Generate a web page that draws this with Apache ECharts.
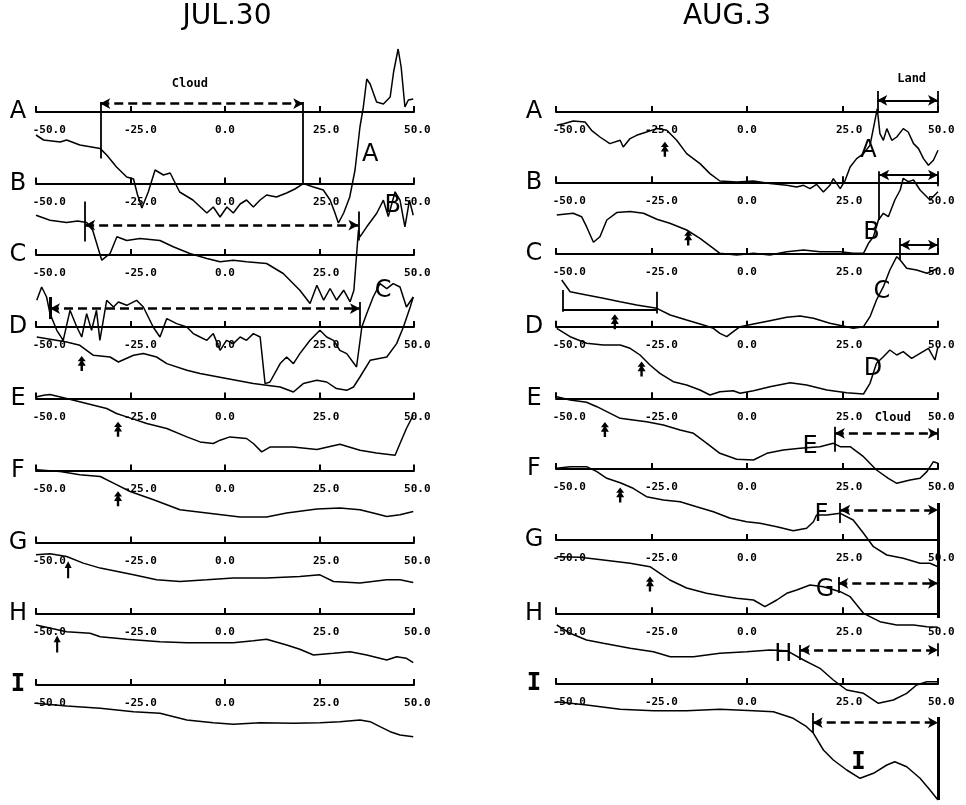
<!DOCTYPE html>
<html><head><meta charset="utf-8">
<script src="https://cdn.jsdelivr.net/npm/echarts@6/dist/echarts.min.js"></script>
<style>html,body{margin:0;padding:0;background:#fff}#c{width:966px;height:805px}</style>
</head><body><div id="c"></div>
<script>
// ---------- data ----------
const rowNames = ['A','B','C','D','E','F','G','H','I'];
const panelTitles = ['JUL.30','AUG.3'];
const tickValues = [-50,-25,0,25,50];
const tickLabels = ['-50.0','-25.0','0.0','25.0','50.0'];

// JUL.30 profiles: [distance, relative level]
const jul_A = [[-50,-23],[-48,-28],[-43.6,-30],[-41.9,-28],[-38.4,-33],[-33,-36.6],[-31.3,-43],[-28.7,-55],[-26,-65],[-24.2,-67],[-23.2,-82],[-22,-96],[-20.3,-80],[-18.5,-58],[-16.3,-63],[-14.5,-61],[-12,-80],[-8.5,-88],[-4.8,-101],[-3.1,-95],[-1.3,-105],[0.5,-95],[2.2,-101],[4,-92],[5.7,-88],[7.5,-95],[9.3,-88],[11,-83],[13.6,-85],[16.3,-81],[18.5,-77],[20.7,-71.6],[23.4,-75],[26,-78],[27.8,-88],[29.1,-101],[30,-111],[31.4,-101],[33,-85],[34.4,-58],[35.7,-15],[36.6,5],[37.5,33],[38.4,28],[40.1,10],[41.9,8],[43.7,15],[44.6,40],[45.8,63],[46.6,45],[47.6,5],[48.5,12],[49.8,13]];
const jul_B = [[-50,-31.7],[-46.3,-36.7],[-41.9,-39],[-39,-37.5],[-36.6,-39],[-35,-46.7],[-32.6,-76.7],[-30.4,-70],[-28.6,-53.3],[-26,-57],[-22.5,-55],[-17.2,-57],[-13.7,-63.3],[-9.3,-70],[-4.8,-75],[-1.3,-78.3],[2.2,-76.7],[5.7,-78.3],[11,-80],[15.4,-90],[19.8,-106.7],[22.5,-120],[24.3,-101.7],[26.1,-116.7],[27.8,-105],[29.5,-116.7],[31.4,-106.7],[33.1,-118.3],[34.1,-106.7],[35.3,-46.7],[35.7,-53.3],[37.5,-43.3],[40.1,-30],[41.9,-16.7],[43.2,-33],[45,-8.3],[46.3,-16.7],[47.6,-43.3],[48.8,-16.7],[49.8,-31.7]];
const jul_C = [[-49.8,-45.3],[-48.5,-32],[-47.2,-42],[-46.3,-58.6],[-44.5,-75.3],[-42.8,-85.3],[-41,-55.3],[-39.2,-72],[-37.9,-82],[-36.6,-58.6],[-35.3,-75.3],[-34,-55.3],[-33.1,-85.3],[-31.3,-45.3],[-29.5,-52],[-28.2,-47],[-26,-50.3],[-23.4,-45.3],[-21.6,-52],[-19,-72],[-17.2,-82],[-15.4,-63.6],[-12.8,-68.6],[-10.1,-72],[-8.4,-78.6],[-6.6,-82],[-4.8,-85.3],[-3.1,-78.6],[-1.3,-95.3],[0.4,-85.3],[2.2,-88.6],[4,-82],[5.7,-85.3],[7.5,-78.6],[9.3,-82],[10.6,-128.6],[11.9,-127],[14.6,-108.6],[16.3,-102],[18.1,-108.6],[19.8,-98.6],[22.5,-85.3],[25.1,-75.3],[26.9,-82],[28.7,-85.3],[30.4,-95.3],[32.2,-98.6],[34.8,-112],[36.2,-72],[37.5,-58.6],[39.2,-42],[41,-28.6],[42.8,-33.6],[44.5,-28.6],[46.3,-32],[48,-52],[49.8,-42]];
const jul_D = [[-49.8,-10],[-41.9,-15],[-38.4,-18.3],[-34.8,-28.3],[-30.4,-30],[-28.2,-35],[-24.2,-28.3],[-21.6,-26.6],[-18.1,-30],[-15.4,-36.6],[-10.1,-43.3],[-6.6,-46.6],[0.4,-51.6],[7.5,-56.6],[11,-58.3],[14.6,-60],[18.1,-65],[20.7,-56.6],[24.3,-53.3],[26.9,-55],[29.5,-61.6],[32.2,-63.3],[34,-60],[35.7,-50],[38.4,-33.3],[42.8,-30],[45.4,-16.6],[47.2,0],[49,20],[49.8,30]];
const jul_E = [[-50,1.6],[-48,3.3],[-46.3,4],[-41.9,0],[-36.6,-5],[-31.3,-10],[-28.7,-15],[-26,-18.4],[-20.7,-25],[-15.4,-30],[-10.1,-38.4],[-6.6,-43.4],[-3.1,-45],[-1.3,-41.7],[1.3,-38.4],[5.7,-40],[7.5,-45],[9.7,-53.4],[12,-48.4],[18,-48.4],[24.3,-51],[30.4,-45.7],[35.7,-51.7],[40.1,-54.4],[45,-56.7],[46.3,-45],[48,-30],[49.8,-16.7]];
const jul_F = [[-50,0.7],[-43.6,-1],[-38.4,-4.3],[-33,-6],[-29.5,-12.6],[-25.1,-21],[-18.9,-29.3],[-11.9,-39.3],[-4.8,-42.6],[4,-46.6],[11,-46.6],[16.3,-42.6],[24.3,-38.6],[30.4,-37.6],[35.7,-39.3],[39.2,-42.6],[42.8,-46],[46.3,-44.3],[49.8,-41]];
const jul_G = [[-50,-12.3],[-46.3,-11.3],[-41.9,-14],[-37.5,-20.6],[-33,-25.6],[-24.2,-32.3],[-18.1,-37.3],[-11.9,-39],[-4.8,-37.3],[2.2,-35.6],[11,-35.6],[19.8,-34],[25.1,-32.3],[28.7,-39],[35.7,-40.6],[42.8,-37.3],[46.3,-37.3],[49.8,-40]];
const jul_H = [[-50,-11],[-41.9,-17.7],[-35.7,-19.3],[-33,-22.7],[-26,-25.3],[-17.2,-27.7],[-10.1,-28.7],[-3.1,-28.7],[2.2,-28.7],[7.5,-26.7],[11,-25.3],[16.3,-31],[19.8,-35.3],[23.4,-41],[28.7,-39.3],[33.1,-37.7],[37.5,-41],[42.8,-46],[45.4,-42.7],[48,-44.3],[49.8,-48.7]];
const jul_I = [[-50,-18.3],[-41.9,-21],[-33,-23.3],[-24.2,-26.7],[-17.2,-28.3],[-10.1,-35],[-3.1,-37.7],[2.2,-39.3],[9.3,-37.7],[18.1,-38.3],[25.1,-37.7],[30.4,-36.7],[35.7,-35],[38.4,-36.7],[41,-41.7],[43.7,-46.7],[46.3,-50],[49.8,-51.7]];

// AUG.3 profiles
const aug_A = [[-49.8,-13.3],[-48,-11.7],[-45.5,-9],[-42.4,-10],[-40.7,-18.3],[-38.5,-25],[-35.9,-31.6],[-33.2,-28.3],[-32.4,-35],[-30.6,-26.6],[-28.9,-23.3],[-26.3,-20],[-23.6,-16.6],[-21,-18.3],[-18.4,-28.3],[-15.8,-41.6],[-12.3,-51.6],[-9.7,-61.6],[-7.1,-69],[-2.7,-70],[1.7,-69],[6,-71.6],[10.4,-73.3],[13,-75],[14.8,-73.3],[16.5,-76.6],[18.2,-72.3],[20,-80],[21.7,-73.3],[22.6,-66.6],[24.4,-76.6],[25.7,-68.3],[27,-55],[28.7,-46.6],[30.5,-41.6],[32.2,-33.3],[33.5,-8.3],[34.1,3.4],[34.8,-21.6],[35.7,-28.3],[36.6,-16.6],[37.9,-28.3],[39.2,-25],[40.9,-16.6],[42.2,-20],[43.6,-31.6],[44.9,-36.6],[46.2,-46.6],[47.5,-53.3],[48.8,-48.3],[50,-38.3]];
const aug_B = [[-49.8,-32.7],[-45.5,-31],[-43.3,-34.4],[-42,-44.4],[-40.2,-60],[-38.5,-54.4],[-36.7,-37.7],[-34.1,-30.3],[-30.6,-29.3],[-27.1,-31],[-23.6,-37],[-20.2,-41],[-15.8,-47.7],[-12.3,-56],[-8.8,-66],[-7.1,-71],[-2.7,-72.7],[1.7,-71],[6,-72.7],[10.4,-69.4],[14.8,-67.7],[19.1,-69.4],[24.4,-69.4],[27.8,-71],[30.5,-71],[31.8,-61],[33.1,-54.4],[34.4,-37.7],[35.7,-31],[37,-34.4],[38.7,-17.7],[40.1,-7.7],[40.9,4],[42.2,0.7],[43.6,2.3],[45.3,-7.7],[46.6,-12.7],[47.9,-17.7],[50,-9.4]];
const aug_C = [[-48.5,-26],[-46.3,-37.7],[-42,-41],[-37.6,-44.3],[-33.2,-47.7],[-28.9,-51],[-23.6,-54.3],[-20.1,-61],[-15.8,-66],[-11.4,-71],[-8.8,-74.3],[-7.1,-79.3],[-5.3,-82.7],[-3.6,-77.7],[-1.8,-72.7],[1.7,-70],[6,-66.7],[10.4,-63.3],[13.9,-62],[17.4,-64.3],[21.7,-69.3],[26.1,-72.7],[27.8,-74.3],[30.5,-72.7],[32.2,-62.7],[33.9,-46],[35.7,-32.7],[37.4,-16],[39.2,-2.7],[40.1,-6],[41.8,-14.3],[44.4,-16],[47.1,-19.3],[50,-14.3]];
const aug_D = [[-49.8,-1.6],[-46.3,-10],[-42,-16.6],[-37.6,-18.3],[-33.2,-18.3],[-30.6,-21.6],[-28,-28.3],[-25.4,-38.3],[-22.8,-46.6],[-19.3,-55],[-15.8,-58.3],[-12.3,-63.3],[-9.7,-68.3],[-7.1,-65],[-3.6,-64],[-1.8,-66.6],[1.7,-64],[6,-60],[11.3,-56],[15.6,-58.3],[20.9,-63.3],[26.1,-66],[30.5,-67.3],[32.2,-56.6],[33.9,-36.6],[35.7,-30],[37.4,-23.3],[39.2,-28.3],[40.9,-25],[43.1,-31.6],[45.3,-26.6],[47.5,-21.6],[49.2,-33.3],[50,-20]];
const aug_E = [[-49.8,1.6],[-46.3,-1.7],[-42,-4],[-39.3,-8.4],[-36.7,-13.4],[-33.2,-20],[-29.8,-21.7],[-26.3,-23.4],[-21.9,-26.7],[-17.5,-31.7],[-14,-35],[-10.5,-45],[-7.1,-55],[-2.7,-61],[1.7,-61.7],[5.2,-55],[9.5,-51.7],[13.9,-50],[19.1,-48.4],[22.6,-45],[24.4,-48.4],[27,-48.4],[30.5,-58.4],[33.9,-71.7],[37,-80],[39.2,-85],[42.7,-81.7],[45.3,-80],[47.1,-73.3],[48.8,-63.4],[50,-65]];
const aug_F = [[-49.8,0.7],[-46.3,2.3],[-42,2.3],[-39.3,-2.7],[-36.7,-9.3],[-33.2,-13.7],[-29.8,-19.3],[-26.3,-27.7],[-21.9,-31],[-17.5,-32.7],[-13.2,-37.7],[-8.8,-42.7],[-4.4,-49.3],[-0.1,-52.7],[3.4,-54.3],[7.8,-57.7],[12.1,-61.7],[15.6,-59.3],[17.4,-52.7],[18.2,-46],[20.9,-46],[24.4,-44.3],[27.8,-51],[30.5,-64.3],[33.1,-77.7],[36.6,-86],[40.9,-89.3],[45.3,-94.3],[47.9,-94.3],[50,-97.7]];
const aug_G = [[-49.8,-16.7],[-43.7,-17.3],[-37.6,-20],[-30.6,-23.3],[-25.4,-26.7],[-22.8,-33.3],[-20.2,-40],[-15.8,-48],[-10.6,-53.3],[-5.3,-56.7],[-2.7,-58.3],[1.7,-60],[4.7,-66.7],[7.8,-60],[10.4,-53.3],[13,-50],[16.5,-45],[20,-46.7],[24.4,-51.7],[27,-56.7],[30.5,-73.3],[34.8,-81.7],[39.2,-85],[43.6,-85],[47.1,-86.7],[50,-87.3]];
const aug_H = [[-49.8,-11.7],[-46.3,-20],[-42,-26.7],[-37.6,-30],[-30.6,-35],[-24.5,-38.4],[-20.1,-43.4],[-14,-43.4],[-7.1,-40],[-0.1,-38.4],[6,-36.7],[10.4,-37.4],[14.8,-46.7],[19.1,-55],[22.6,-66.7],[26.1,-76.7],[30.5,-80],[34.4,-90],[38.3,-86.7],[41.8,-80],[44.4,-71.7],[47.1,-68.4],[50,-68.4]];
const aug_I = [[-49.8,-17.7],[-42,-21],[-33.2,-25.3],[-24.5,-26.7],[-15.8,-26.7],[-7.1,-25.3],[1.7,-26.7],[6.9,-27.7],[12.1,-34.3],[15.6,-42.7],[17.4,-49.3],[20,-66],[22.6,-76],[26.1,-86],[29.6,-94.3],[33.1,-89.3],[36.6,-81],[38.7,-77.7],[41.8,-82.7],[45.3,-94.3],[47.9,-106],[50,-116]];

// annotations in data coordinates
// spans: [row, x1, x2, level, kind]   kind: dash | solid | bracket
const julSpans = [[0,-33,20.7,8.4,'dash'],[1,-37,35.3,-41.7,'dash'],[3,-46.3,35.7,18.4,'dash']];
const augSpans = [[0,34.1,50,11.7,'solid'],[1,34.6,50,7.3,'solid'],[2,40.1,50,9,'solid'],[3,-48.3,-23.6,16.7,'bracket'],
                  [4,23,50,-35,'dash'],[5,24.4,50,-41,'dash'],[6,23.9,50,-43.3,'dash'],[7,13.9,50,-36.7,'dash'],[8,17.2,50,-38.7,'dash']];
// bars: [row, x, from, to, kind]  kind: thin | thick
const julBars = [[0,-33,10,-46.6,'thin'],[0,20.7,10,-71.6,'thin'],[1,-37,-18,-58,'thin'],[1,35.3,-28,-57,'thin'],[3,-46.3,30,8,'thick'],[3,35.7,25,0,'thin']];
const augBars = [[0,34.1,21,0,'thin'],[0,50,21,0,'thin'],[1,34.6,11,-37.7,'thin'],[1,50,11,-4,'thin'],[2,40.1,16,-6,'thin'],[2,50,16,0,'thin'],
                 [3,-48.3,36.7,15,'thin'],[3,-23.6,35,13.3,'thin'],[4,23,-28.4,-53.4,'thin'],[4,50,-30,-41.7,'thin'],[5,24.4,-34,-54,'thin'],
                 [6,50,37,-78,'thick'],[6,23.9,-37,-53,'thin'],[7,13.9,-31.7,-46.7,'thin'],[7,50,-30,-43,'thin'],[8,17.2,-29,-49,'thin'],[8,50,-33,-116,'thick']];
// arrows: [row, x, level, kind]  kind: feather | plain
const julArrows = [[3,-37.9,-36.6,'feather'],[4,-28.3,-30.7,'feather'],[5,-28.3,-28.3,'feather'],[6,-41.5,-27.3,'plain'],[7,-44.4,-30,'plain']];
const augArrows = [[0,-21.5,-37.3,'feather'],[1,-15.4,-55.7,'feather'],[3,-34.6,5,'feather'],[3,-27.6,-42.3,'feather'],[4,-37.2,-31.2,'feather'],[5,-33.2,-26,'feather'],[6,-25.4,-44,'feather']];
// texts: [row, x, level, text, kind]  kind: letter | note
const julTexts = [[0,-9.3,27.7,'Cloud','note'],[0,38.4,-43,'A','letter'],[1,44.4,-22.7,'B','letter'],[2,41.8,-35.3,'C','letter']];
const augTexts = [[0,43.1,33.4,'Land','note'],[4,38.2,-19.7,'Cloud','note'],[0,31.8,-38.3,'A','letter'],[1,32.6,-50.7,'B','letter'],[2,35.3,-37.7,'C','letter'],
                  [3,33,-41.6,'D','letter'],[4,16.5,-48.4,'E','letter'],[5,19.5,-46,'F','letter'],[6,20.4,-50,'G','letter'],[7,9.5,-41.7,'H','letter'],[8,29.2,-79,'I','letter']];

const julProfiles = [jul_A,jul_B,jul_C,jul_D,jul_E,jul_F,jul_G,jul_H,jul_I];
const augProfiles = [aug_A,aug_B,aug_C,aug_D,aug_E,aug_F,aug_G,aug_H,aug_I];

// ---------- layout / style ----------
const Y_MAX = 70, Y_MIN = -120;
const panels = [
  {title: panelTitles[0], titleX: 227, letterX: 18, x0: 36, x1: 414,
   axisY: [112,183.5,255,327,398.5,470.5,542.5,614,685],
   profiles: julProfiles, spans: julSpans, bars: julBars, arrows: julArrows, texts: julTexts},
  {title: panelTitles[1], titleX: 727, letterX: 534, x0: 556, x1: 938,
   axisY: [112,182.3,254,326.7,398.3,469,540,613.3,684],
   profiles: augProfiles, spans: augSpans, bars: augBars, arrows: augArrows, texts: augTexts}
];
const labelPad = {'-50':'    ', '-25':'   ', '0':'', '25':'  ', '50':' '};
const FEATHER = 'path://M5,0L10,7L6.5,7L10,13L6.5,13L6.5,20L3.5,20L3.5,13L0,13L3.5,7L0,7Z';
const PLAIN = 'path://M5,0L10,8L6.5,8L6.5,20L3.5,20L3.5,8L0,8Z';
const LETTER_FONT = '"DejaVu Sans", sans-serif';

const grids = [], xAxes = [], yAxes = [], series = [], graphics = [];

panels.forEach((p, pi) => {
  graphics.push({type:'text', x: p.titleX, y: 17, silent: true,
    style:{text: p.title, fill:'#000', font:'28px "DejaVu Sans"', align:'center', verticalAlign:'middle'}});
  p.profiles.forEach((prof, r) => {
    const gi = grids.length;
    const ay = p.axisY[r];
    grids.push({left: p.x0, width: p.x1 - p.x0, top: ay - Y_MAX, height: Y_MAX - Y_MIN,
                containLabel: false, outerBoundsMode: 'none'});
    xAxes.push({gridIndex: gi, type:'value', min: tickValues[0], max: tickValues[tickValues.length-1], interval: 25,
      position:'top', offset: -Y_MAX,
      axisLine:{show:true, onZero:false, lineStyle:{color:'#000', width:2}},
      axisTick:{show:true, inside:false, length:6, lineStyle:{color:'#000', width:2}},
      axisLabel:{show:true, inside:true, margin:13, color:'#000', fontFamily:'"DejaVu Sans Mono", monospace',
        fontWeight:'bold', fontSize:11,
        formatter: v => (labelPad[String(v)] || '') + tickLabels[tickValues.indexOf(v)]},
      splitLine:{show:false}});
    yAxes.push({gridIndex: gi, type:'value', min: Y_MIN, max: Y_MAX, show:false, splitLine:{show:false}});
    graphics.push({type:'text', x: p.letterX, y: ay, silent:true,
      style:{text: rowNames[r], fill:'#000',
        font: rowNames[r] === 'I' ? 'bold 24px "DejaVu Sans Mono"' : '24px ' + LETTER_FONT,
        align:'center', verticalAlign:'middle'}});

    const mlData = [];
    p.spans.filter(s => s[0] === r).forEach(s => {
      const sym = s[4] === 'bracket' ? 'none' : 'arrow';
      mlData.push([
        {coord:[s[1], s[3]], symbol: sym, symbolSize:[8,10],
         lineStyle:{color:'#000', width: s[4]==='dash' ? 2.5 : 2, type: s[4]==='dash' ? [9,5] : 'solid'}},
        {coord:[s[2], s[3]], symbol: sym, symbolSize:[8,10]}
      ]);
    });
    p.bars.filter(b => b[0] === r).forEach(b => {
      mlData.push([
        {coord:[b[1], b[2]], symbol:'none', lineStyle:{color:'#000', width: b[4]==='thick' ? 3 : 1.8, type:'solid'}},
        {coord:[b[1], b[3]], symbol:'none'}
      ]);
    });
    const mpData = [];
    p.arrows.filter(a => a[0] === r).forEach(a => {
      mpData.push({coord:[a[1], a[2]], symbol: a[3]==='feather' ? FEATHER : PLAIN,
        symbolSize: a[3]==='feather' ? [8,15] : [7,17], itemStyle:{color:'#000'}, label:{show:false}});
    });
    p.texts.filter(t => t[0] === r).forEach(t => {
      const isNote = t[4] === 'note';
      mpData.push({coord:[t[1], t[2]], symbol:'circle', symbolSize:1, itemStyle:{color:'rgba(0,0,0,0)'},
        label:{show:true, position:'inside', formatter: t[3], color:'#000',
          fontFamily: isNote ? '"DejaVu Sans Mono", monospace' : (t[3]==='I' ? '"DejaVu Sans Mono"' : LETTER_FONT),
          fontWeight: isNote || t[3]==='I' ? 'bold' : 'normal',
          fontSize: isNote ? 12 : 24}});
    });

    series.push({type:'line', name: p.title + ' ' + rowNames[r], xAxisIndex: gi, yAxisIndex: gi,
      data: prof, showSymbol:false, symbol:'none', clip:false, silent:true,
      lineStyle:{color:'#000', width:1.5}, z: 3,
      markLine:{silent:true, animation:false, symbol:['none','none'], label:{show:false}, data: mlData},
      markPoint:{silent:true, animation:false, data: mpData}
    });
  });
});

const chart = echarts.init(document.getElementById('c'), null, {renderer:'canvas'});
chart.setOption({
  animation:false,
  backgroundColor:'#fff',
  grid: grids, xAxis: xAxes, yAxis: yAxes, series: series, graphic: graphics
});
</script>
</body></html>
